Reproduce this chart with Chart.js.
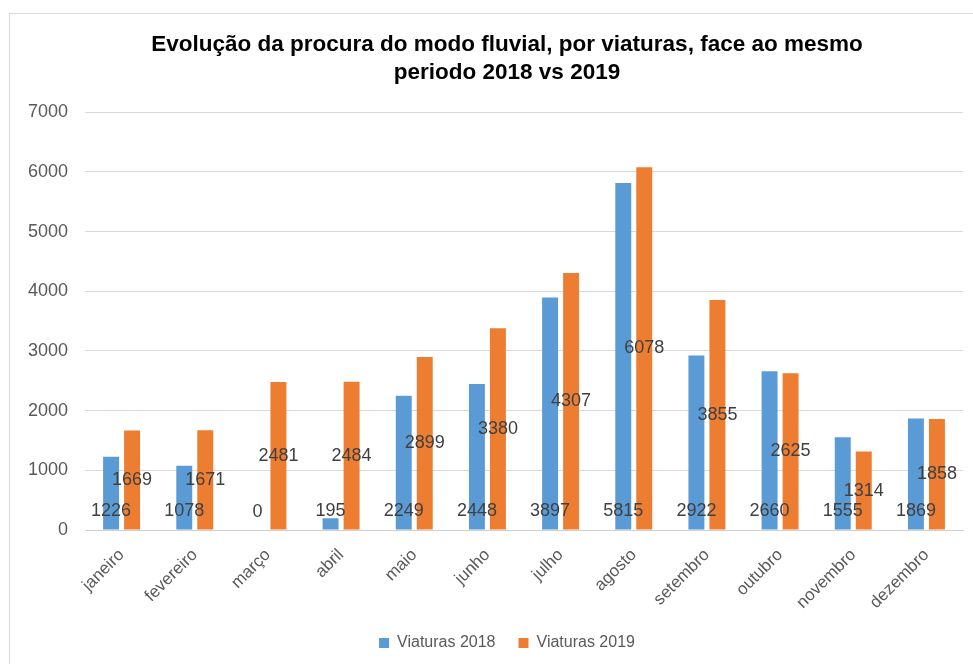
<!DOCTYPE html>
<html>
<head>
<meta charset="utf-8">
<script src="https://cdn.jsdelivr.net/npm/chart.js@4/dist/chart.umd.min.js"></script>
<style>
  html, body { margin: 0; padding: 0; background: #fff; }
  #wrap { width: 973px; height: 664px; position: relative; }
</style>
</head>
<body>
<div id="wrap"><canvas id="chart"></canvas></div>
<script>
'use strict';

var months = ['janeiro', 'fevereiro', 'março', 'abril', 'maio', 'junho', 'julho',
  'agosto', 'setembro', 'outubro', 'novembro', 'dezembro'];
var viaturas2018 = [1226, 1078, 0, 195, 2249, 2448, 3897, 5815, 2922, 2660, 1555, 1869];
var viaturas2019 = [1669, 1671, 2481, 2484, 2899, 3380, 4307, 6078, 3855, 2625, 1314, 1858];
var yTicks = [0, 1000, 2000, 3000, 4000, 5000, 6000, 7000];

var fontFamily = "'Liberation Sans', Arial, sans-serif";

// frame round the chart, like the Excel chart border
var frame = {
  id: 'frame',
  beforeDraw: function (chart) {
    var ctx = chart.ctx;
    ctx.save();
    ctx.strokeStyle = '#d9d9d9';
    ctx.lineWidth = 1;
    ctx.strokeRect(9.5, 13.5, 1000, 700);
    ctx.restore();
  }
};

// y tick labels drawn here so they can sit left of the narrow y scale box
var yLabels = {
  id: 'yLabels',
  afterDraw: function (chart) {
    var ctx = chart.ctx;
    var y = chart.scales.y;
    ctx.save();
    ctx.font = '18px ' + fontFamily;
    ctx.fillStyle = '#595959';
    ctx.textAlign = 'right';
    ctx.textBaseline = 'middle';
    yTicks.forEach(function (v) {
      ctx.fillText(String(v), chart.chartArea.left - 17, y.getPixelForValue(v));
    });
    ctx.restore();
  }
};

// value labels: 2018 at the bar base, 2019 at the bar middle
var valueLabels = {
  id: 'valueLabels',
  afterDatasetsDraw: function (chart) {
    var ctx = chart.ctx;
    ctx.save();
    ctx.font = '18px ' + fontFamily;
    ctx.fillStyle = '#404040';
    ctx.textAlign = 'center';
    ctx.textBaseline = 'middle';
    chart.data.datasets.forEach(function (ds, di) {
      var meta = chart.getDatasetMeta(di);
      meta.data.forEach(function (el, i) {
        var y = di === 0 ? el.base - 18 : (el.y + el.base) / 2;
        ctx.fillText(String(ds.data[i]), el.x, y);
      });
    });
    ctx.restore();
  }
};

new Chart(document.getElementById('chart'), {
  type: 'bar',
  data: {
    labels: months,
    datasets: [{
      label: 'Viaturas 2018',
      data: viaturas2018,
      backgroundColor: '#5B9BD5',
      categoryPercentage: 0.574,
      barPercentage: 0.76
    }, {
      label: 'Viaturas 2019',
      data: viaturas2019,
      backgroundColor: '#ED7D31',
      categoryPercentage: 0.574,
      barPercentage: 0.76
    }]
  },
  options: {
    responsive: true,
    maintainAspectRatio: false,
    animation: false,
    layout: { padding: { left: 51, right: 10, top: 0, bottom: 3 } },
    plugins: {
      title: {
        display: true,
        text: ['Evolução da procura do modo fluvial, por viaturas, face ao mesmo', 'periodo 2018 vs 2019'],
        color: '#000',
        font: { family: fontFamily, size: 22.5, weight: 'bold', lineHeight: 1.25 },
        padding: { top: 31, bottom: 25 }
      },
      legend: {
        position: 'bottom',
        labels: {
          color: '#595959',
          font: { family: fontFamily, size: 16 },
          boxWidth: 10,
          boxHeight: 10,
          padding: 23
        }
      },
      tooltip: { enabled: false }
    },
    scales: {
      x: {
        grid: { display: false, drawTicks: false },
        border: { color: '#d0d0d0' },
        ticks: {
          color: '#595959',
          font: { family: fontFamily, size: 17 },
          minRotation: 45,
          maxRotation: 45,
          padding: 15
        },
        afterFit: function (scale) { scale.height = 82; }
      },
      y: {
        min: 0,
        max: 7000,
        afterBuildTicks: function (scale) {
          scale.ticks = yTicks.map(function (v) { return { value: v }; });
        },
        grid: { color: '#d9d9d9', drawTicks: false },
        border: { display: false },
        ticks: { display: false },
        afterFit: function (scale) { scale.width = 34; }
      }
    }
  },
  plugins: [frame, yLabels, valueLabels]
});
</script>
</body>
</html>
